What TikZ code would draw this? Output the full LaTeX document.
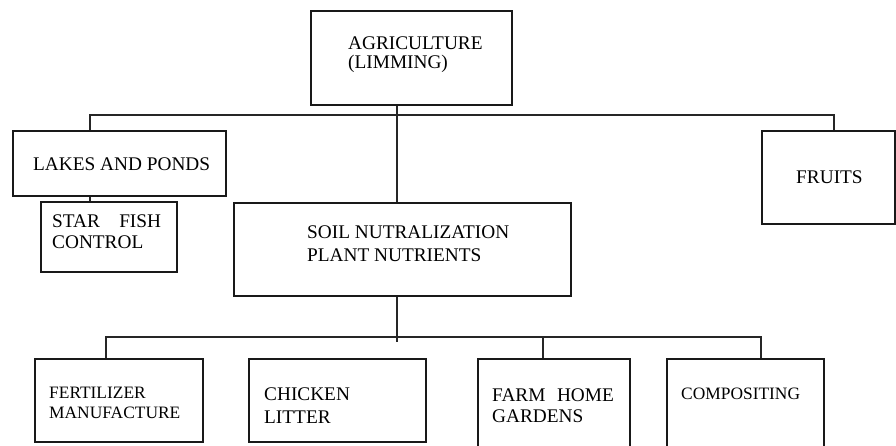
\documentclass[tikz,border=0pt]{standalone}
\usepackage{fontspec}
\setmainfont{Liberation Serif}
\begin{document}
\begin{tikzpicture}[x=1pt,y=-1pt,
  box/.style={draw=black!90,line width=1.7pt,rectangle,inner sep=0pt,anchor=north west},
  conn/.style={draw=black!85,line width=1.7pt},
  lbl/.style={inner sep=0pt,anchor=base west,align=left,font=\fontsize{19.3}{#1}\selectfont},
  lbl/.default=21]
\useasboundingbox (0,0) rectangle (896,445);
\clip (0,0) rectangle (896,445);
% boxes
\node[box,minimum width=201,minimum height=94] (agri) at (310,10) {};
\node[box,minimum width=213,minimum height=65] (lakes) at (12,130) {};
\node[box,minimum width=136,minimum height=70] (star) at (40,201) {};
\node[box,minimum width=133,minimum height=93] (fruits) at (761,130) {};
\node[box,minimum width=337,minimum height=93] (soil) at (233,202) {};
\node[box,minimum width=168,minimum height=83] (fert) at (34,358) {};
\node[box,minimum width=177,minimum height=83] (chick) at (248,358) {};
\node[box,minimum width=152,minimum height=100] (farm) at (477,358) {};
\node[box,minimum width=157,minimum height=100] (comp) at (666,358) {};
% texts (base anchor = baseline of the last line)
\node[lbl=19] (agriT) at (348,68) {AGRICULTURE\\(LIMMING)};
\node[lbl] (lakesT) at (33,170) {LAKES AND PONDS};
\node[lbl=21] (starT) at (52,248) {STAR\hspace{1em}FISH\\CONTROL};
\node[lbl] (fruitsT) at (796,183) {FRUITS};
\node[lbl=23] (soilT) at (307,261) {SOIL NUTRALIZATION\\PLANT NUTRIENTS};
\node[inner sep=0pt,anchor=base west,align=left,font=\fontsize{17.4}{20}\selectfont] (fertT) at (49,418) {FERTILIZER\\MANUFACTURE};
\node[lbl=23] (chickT) at (264,423) {CHICKEN\\LITTER};
\node[lbl=21] (farmT) at (492,422) {FARM\hspace{0.6em}HOME\\GARDENS};
\node[inner sep=0pt,anchor=base west,font=\fontsize{17.4}{20}\selectfont] (compT) at (681,399) {COMPOSITING};
% junctions
\coordinate (j1) at (397,115);
\coordinate (l1) at (90,115);
\coordinate (f1) at (834,115);
\coordinate (j2) at (397,342);
\coordinate (b1) at (106,337);
\coordinate (b3) at (543,337);
\coordinate (b4) at (761,337);
% connectors
\draw[conn] (j1 |- agri.south) -- (j1 |- soil.north);
\draw[conn] (l1 |- lakes.north) -- (l1) -- (f1) -- (f1 |- fruits.north);
\draw[conn] (l1 |- lakes.south) -- (l1 |- star.north);
\draw[conn] (j2 |- soil.south) -- (j2);
\draw[conn] (b1 |- fert.north) -- (b1) -- (b4) -- (b4 |- comp.north);
\draw[conn] (b3) -- (b3 |- farm.north);
\end{tikzpicture}
\end{document}
